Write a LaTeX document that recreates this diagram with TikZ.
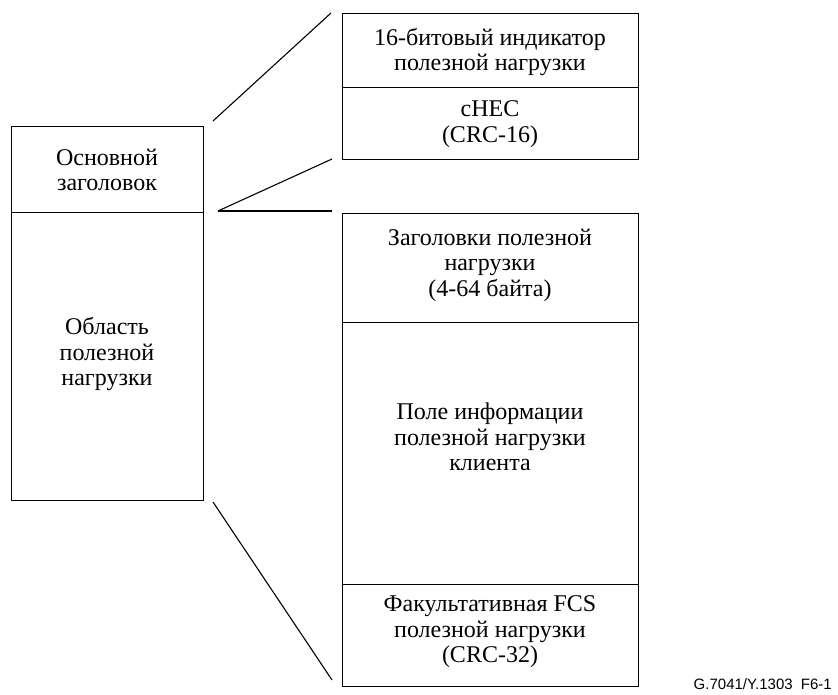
\documentclass[tikz,border=0pt]{standalone}
\usepackage{fontspec}
\setmainfont{Liberation Serif}
\newfontfamily\labelfont{Liberation Sans}
\begin{document}
\begin{tikzpicture}[x=1pt,y=-1pt,
  cell/.style={draw, line width=1.1pt, rectangle, inner sep=0pt, anchor=north west},
  txt/.style={align=center, font=\fontsize{24}{25.5}\selectfont, inner sep=0pt},
  link/.style={line width=1.1pt}]
\useasboundingbox (0,0) rectangle (838,695);

% left frame: main header and payload area
\node[cell, minimum width=192pt, minimum height=86pt]  (core) at (11,126) {};
\node[cell, minimum width=192pt, minimum height=288pt] (payarea) at (11,212) {};
\node[txt] (coretxt) at (107,170) {Основной\\заголовок};
\node[txt] (paytxt) at (107,354) {Область\\полезной\\нагрузки};

% upper right frame: core header fields
\node[cell, minimum width=296pt, minimum height=74pt] (pli) at (342,13) {};
\node[cell, minimum width=296pt, minimum height=72pt] (chec) at (342,87) {};
\node[txt] (plitxt) at (490,52) {16-битовый индикатор\\полезной нагрузки};
\node[txt] (chectxt) at (490,124) {cHEC\\(CRC-16)};

% lower right frame: payload area fields
\node[cell, minimum width=296pt, minimum height=109pt] (phdr) at (342,213) {};
\node[cell, minimum width=296pt, minimum height=262pt] (pinfo) at (342,322) {};
\node[cell, minimum width=296pt, minimum height=102pt] (pfcs) at (342,584) {};
\node[txt] (phdrtxt) at (490,265) {Заголовки полезной\\нагрузки\\(4-64 байта)};
\node[txt] (pinfotxt) at (490,437) {Поле информации\\полезной нагрузки\\клиента};
\node[txt] (pfcstxt) at (490,632) {Факультативная FCS\\полезной нагрузки\\(CRC-32)};

% expansion lines
\coordinate (a1) at (213,121);
\coordinate (a2) at (331,13);
\coordinate (b1) at (218,211);
\coordinate (b2) at (332,159);
\coordinate (b3) at (332,211);
\coordinate (c1) at (213,502);
\coordinate (c2) at (332,680);
\draw[link] (a1) -- (a2);
\draw[link] (b1) -- (b2);
\draw[link] (b1) -- (b3);
\draw[link] (c1) -- (c2);

\node[anchor=base east, inner sep=0pt, font=\labelfont\fontsize{15}{17}\selectfont] (figid) at (832,689) {G.7041/Y.1303\hspace{0.55em}F6-1};
\end{tikzpicture}
\end{document}
